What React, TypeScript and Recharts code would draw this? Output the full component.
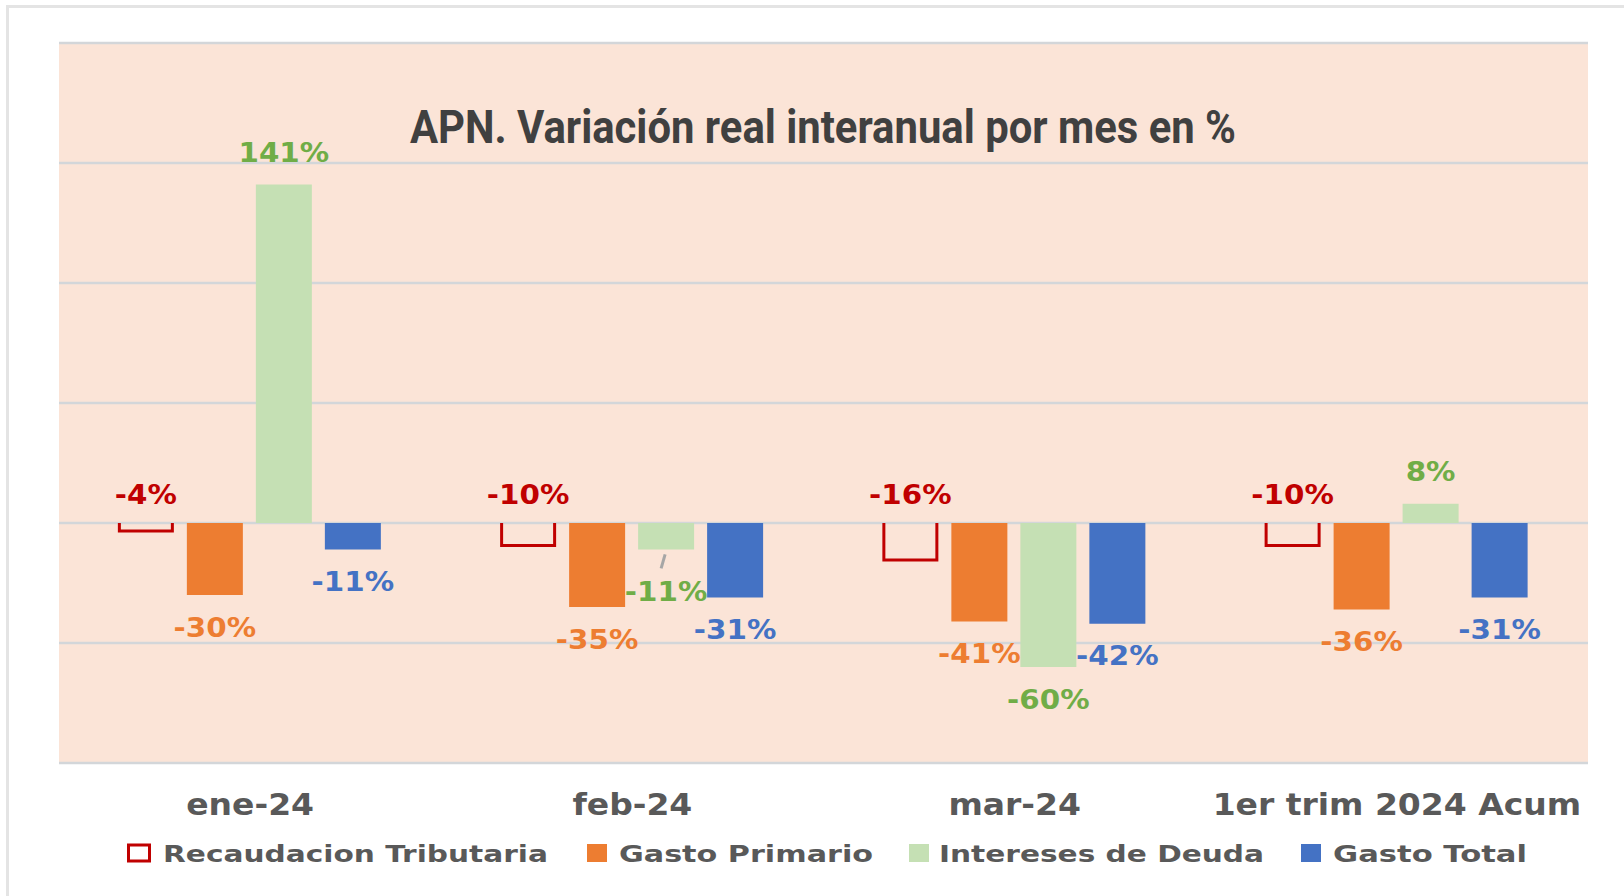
import { Bar, BarChart, CartesianGrid, LabelList, XAxis, YAxis } from "recharts"

const categories = ["ene-24", "feb-24", "mar-24", "1er trim 2024 Acum"]
const recaudacion = [-4, -10, -16, -10]
const gastoPrimario = [-30, -35, -41, -36]
const intereses = [141, -11, -60, 8]
const gastoTotal = [-11, -31, -42, -31]
const yTicks = [-100, -50, 0, 50, 100, 150, 200]

const seriesNames = ["Recaudacion Tributaria", "Gasto Primario", "Intereses de Deuda", "Gasto Total"]

const data = categories.map((name, i) => ({
  name,
  recaudacion: recaudacion[i],
  gastoPrimario: gastoPrimario[i],
  intereses: intereses[i],
  gastoTotal: gastoTotal[i],
}))

const RED = "#C00000"
const ORANGE = "#ED7D31"
const GREEN_BAR = "#C5E0B4"
const GREEN_TEXT = "#70AD47"
const BLUE = "#4472C4"
const GREY_TEXT = "#595959"
const FONT = "DejaVu Sans, Verdana, sans-serif"

// extra drop (px) for labels that were pulled away from their bar, with a leader line
const interesesLabelDrop = [0, 10, 0, 0]

const OpenBar = (props: any) => {
  const { x, y, width, height } = props
  const top = Math.min(y, y + height)
  const bottom = Math.max(y, y + height)
  const l = x + 1.5
  const r = x + width - 1.5
  return (
    <path
      d={`M${l},${top} L${l},${bottom - 1.5} L${r},${bottom - 1.5} L${r},${top}`}
      fill="none"
      stroke={RED}
      strokeWidth={3}
    />
  )
}

const makeLabel = (color: string, mode: "end" | "zero", drop?: number[]) => (props: any) => {
  const { x, y, width, height, value, index } = props
  const top = Math.min(y, y + height)
  const bottom = Math.max(y, y + height)
  const cx = x + width / 2
  const extra = drop ? drop[index] || 0 : 0
  let cy: number
  if (mode === "zero") cy = (value < 0 ? top : bottom) - 29
  else cy = value >= 0 ? top - 32 : bottom + 32 + extra
  return (
    <g>
      {extra > 0 && (
        <line x1={cx - 1} y1={bottom + 5} x2={cx - 5} y2={bottom + 19} stroke="#A6A6A6" strokeWidth={3} />
      )}
      <g transform={`translate(${cx},${cy + 9.5})`}>
        <text
          transform="scale(1.13,1)"
          textAnchor="middle"
          fontFamily={FONT}
          fontWeight="bold"
          fontSize={26}
          fill={color}
        >
          {`${value}%`}
        </text>
      </g>
    </g>
  )
}

const CategoryTick = (props: any) => {
  const { x, y, payload } = props
  return (
    <g transform={`translate(${x},${y})`}>
      <text
        transform="scale(1.1,1)"
        y={52}
        textAnchor="middle"
        fontFamily={FONT}
        fontWeight="bold"
        fontSize={30}
        fill={GREY_TEXT}
      >
        {payload.value}
      </text>
    </g>
  )
}

const legendItems = [
  { box: 127, text: 163, width: 385, outline: true, color: RED },
  { box: 587, text: 619, width: 254, outline: false, color: ORANGE },
  { box: 909, text: 939, width: 325, outline: false, color: GREEN_BAR },
  { box: 1301, text: 1333, width: 194, outline: false, color: BLUE },
]

export default function App() {
  return (
    <div
      style={{
        position: "absolute",
        left: 0,
        top: 0,
        width: 1624,
        height: 896,
        background: "#FFFFFF",
        overflow: "hidden",
      }}
    >
      <div
        style={{
          position: "absolute",
          left: 6,
          top: 5,
          width: 1624,
          height: 900,
          borderLeft: "3px solid #E4E4E4",
          borderTop: "3px solid #E4E4E4",
        }}
      />
      <div style={{ position: "absolute", left: 0, top: 0 }}>
        <BarChart
          width={1624}
          height={896}
          data={data}
          margin={{ top: 43, right: 36, left: 59, bottom: 73 }}
          barCategoryGap="15.4%"
          barGap={13}
        >
          <CartesianGrid vertical={false} fill="#FBE4D7" stroke="#D3D6D9" strokeWidth={2.5} />
          <YAxis hide domain={[-100, 200]} ticks={yTicks} type="number" />
          <XAxis
            dataKey="name"
            height={60}
            axisLine={false}
            tickLine={false}
            tickSize={0}
            tickMargin={0}
            interval={0}
            tick={<CategoryTick />}
          />
          <Bar dataKey="recaudacion" name={seriesNames[0]} fill="none" shape={<OpenBar />} isAnimationActive={false}>
            <LabelList dataKey="recaudacion" content={makeLabel(RED, "zero")} />
          </Bar>
          <Bar dataKey="gastoPrimario" name={seriesNames[1]} fill={ORANGE} isAnimationActive={false}>
            <LabelList dataKey="gastoPrimario" content={makeLabel(ORANGE, "end")} />
          </Bar>
          <Bar dataKey="intereses" name={seriesNames[2]} fill={GREEN_BAR} isAnimationActive={false}>
            <LabelList dataKey="intereses" content={makeLabel(GREEN_TEXT, "end", interesesLabelDrop)} />
          </Bar>
          <Bar dataKey="gastoTotal" name={seriesNames[3]} fill={BLUE} isAnimationActive={false}>
            <LabelList dataKey="gastoTotal" content={makeLabel(BLUE, "end")} />
          </Bar>
        </BarChart>
      </div>
      <svg
        width={1624}
        height={896}
        style={{ position: "absolute", left: 0, top: 0, pointerEvents: "none" }}
      >
        <text
          x={823}
          y={143}
          textAnchor="middle"
          fontFamily="Roboto, sans-serif"
          fontWeight="bold"
          fontSize={46}
          fill="#404040"
          textLength={826}
          lengthAdjust="spacingAndGlyphs"
        >
          APN. Variación real interanual por mes en %
        </text>
        {legendItems.map((item, i) => (
          <g key={seriesNames[i]}>
            {item.outline ? (
              <rect x={item.box + 1.5} y={845} width={21} height={16} fill="none" stroke={item.color} strokeWidth={3} />
            ) : (
              <rect x={item.box} y={844} width={20} height={18} fill={item.color} />
            )}
            <text
              x={item.text}
              y={862}
              fontFamily={FONT}
              fontWeight="bold"
              fontSize={23}
              fill={GREY_TEXT}
              textLength={item.width}
              lengthAdjust="spacingAndGlyphs"
            >
              {seriesNames[i]}
            </text>
          </g>
        ))}
      </svg>
    </div>
  )
}
